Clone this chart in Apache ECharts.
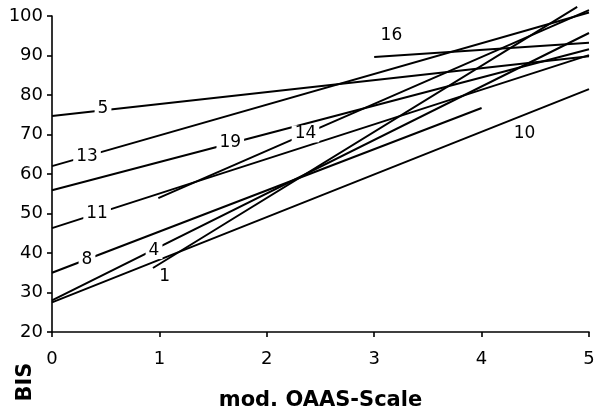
<!DOCTYPE html>
<html>
<head>
<meta charset="utf-8">
<script src="https://cdn.jsdelivr.net/npm/echarts@6/dist/echarts.min.js"></script>
<style>
  html, body { margin: 0; padding: 0; background: #fff; }
  #chart { width: 594px; height: 410px; }
</style>
</head>
<body>
<div id="chart"></div>
<script>
// patient lines (regression lines BIS vs mod. OAAS)
const lineIds = ['5', '13', '19', '11', '8', '4', '10', '1', '14', '16'];
const xStart = [0, 0, 0, 0, 0, 0, 0, 0.94, 0.99, 3];
const yStart = [74.7, 62, 55.9, 46.3, 35, 28, 27.5, 36.2, 53.9, 89.6];
const xEnd = [5, 5, 5, 5, 4, 5, 5, 4.89, 5, 5];
const yEnd = [89.8, 100.9, 91.6, 90.1, 76.7, 95.7, 81.5, 102.3, 101.5, 93.2];
const xTicks = [0, 1, 2, 3, 4, 5];
const yTicks = [20, 30, 40, 50, 60, 70, 80, 90, 100];

// where the number sits along each line (x value) and its pixel offset
const labelX = [0.475, 0.326, 1.66, 0.42, 0.326, 0.95, 4.4, 1.05, 2.36, 3.16];
const labelDy = [-2, 0, -1, 0, 0, 1, 19, 16, 0, -20];

const font = 'DejaVu Sans';
const chart = echarts.init(document.getElementById('chart'));

const series = lineIds.map((id, i) => {
  const t = (labelX[i] - xStart[i]) / (xEnd[i] - xStart[i]);
  const ly = yStart[i] + t * (yEnd[i] - yStart[i]);
  const onLine = labelDy[i] > -5 && labelDy[i] < 5;
  return {
    type: 'line',
    name: id,
    data: [[xStart[i], yStart[i]], [xEnd[i], yEnd[i]]],
    showSymbol: false,
    clip: false,
    lineStyle: { color: '#000', width: 2 },
    silent: true,
    markPoint: {
      z: 10,
      symbol: 'circle',
      symbolSize: 1,
      itemStyle: { color: 'rgba(0,0,0,0)' },
      label: {
        show: true,
        position: 'inside',
        formatter: id,
        offset: [0, labelDy[i]],
        color: '#000',
        fontSize: 17,
        fontFamily: font,
        backgroundColor: onLine ? '#fff' : 'transparent',
        padding: [0, 3]
      },
      data: [{ coord: [labelX[i], ly] }]
    }
  };
});

chart.setOption({
  animation: false,
  backgroundColor: '#fff',
  grid: { left: 52, right: 5, top: 16, bottom: 78, containLabel: false, outerBoundsMode: 'none' },
  xAxis: {
    type: 'value',
    min: xTicks[0],
    max: xTicks[xTicks.length - 1],
    interval: 1,
    name: 'mod. OAAS-Scale',
    nameLocation: 'middle',
    nameGap: 58,
    nameTextStyle: { color: '#000', fontSize: 21, fontWeight: 'bold', fontFamily: font },
    axisLine: { show: true, lineStyle: { color: '#000', width: 1.6 } },
    axisTick: { show: true, length: 5, lineStyle: { color: '#000', width: 1.6 } },
    axisLabel: { color: '#000', fontSize: 18, fontFamily: font, margin: 18 },
    splitLine: { show: false }
  },
  yAxis: {
    type: 'value',
    min: yTicks[0],
    max: yTicks[yTicks.length - 1],
    interval: 10,
    axisLine: { show: true, lineStyle: { color: '#000', width: 1.6 } },
    axisTick: { show: true, length: 5, lineStyle: { color: '#000', width: 1.6 } },
    axisLabel: { color: '#000', fontSize: 18, fontFamily: font, margin: 9 },
    splitLine: { show: false }
  },
  graphic: [
    {
      type: 'text',
      x: 26,
      y: 382,
      rotation: Math.PI / 2,
      style: {
        text: 'BIS',
        font: 'bold 21px "DejaVu Sans"',
        fill: '#000',
        textAlign: 'center',
        textVerticalAlign: 'middle'
      }
    }
  ],
  series: series
});
</script>
</body>
</html>
